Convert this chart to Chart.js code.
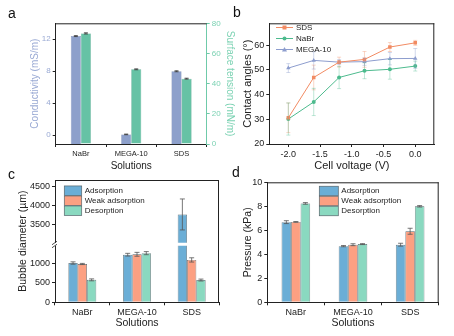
<!DOCTYPE html>
<html>
<head>
<meta charset="utf-8">
<script src="https://cdn.jsdelivr.net/npm/chart.js@4.4.0/dist/chart.umd.min.js"></script>
<style>
  body { margin: 0; background: #fff; width: 454px; height: 336px; overflow: hidden; position: relative; }
  canvas { position: absolute; left: 0; top: 0; }
  .lab { position: absolute; font: 14px 'Liberation Sans', Arial, sans-serif; color: #111; }
</style>
</head>
<body>
<canvas id="ca" width="454" height="336"></canvas>
<canvas id="cb" width="454" height="336"></canvas>
<canvas id="cc" width="454" height="336"></canvas>
<canvas id="cd" width="454" height="336"></canvas>
<div class="lab" style="left:8px;top:5px">a</div>
<div class="lab" style="left:233px;top:4px">b</div>
<div class="lab" style="left:8px;top:166px">c</div>
<div class="lab" style="left:232px;top:164px">d</div>
<script>
const FONT = "'Liberation Sans', Arial, sans-serif";

// panel a
const solutions = ['NaBr', 'MEGA-10', 'SDS'];
const conductivity = [12.4, 0.1, 8.0];
const conductivityErr = [0.06, 0.04, 0.06];
const surfaceTension = [73.3, 49.5, 43.3];
const surfaceTensionErr = [0.4, 0.3, 0.3];
const condTicks = [0, 4, 8, 12];
const tensionTicks = [0, 20, 40, 60, 80];

// panel b
const voltages = [-2.0, -1.6, -1.2, -0.8, -0.4, 0.0];
const angleSDS = [30.6, 46.9, 53.1, 54.2, 59.2, 60.9];
const angleSDSErr = [6, 5, 2, 3.2, 1.8, 1];
const angleNaBr = [30.1, 37.0, 46.9, 49.6, 50.2, 51.5];
const angleNaBrErr = [6.5, 5.5, 4.5, 3.2, 4, 2];
const angleMEGA = [50.7, 53.8, 53.1, 53.3, 54.5, 54.6];
const angleMEGAErr = [1.8, 3.5, 1, 1.5, 2.5, 4];
const voltTicks = [-2.0, -1.5, -1.0, -0.5, 0.0];
const angleTicks = [20, 30, 40, 50, 60];

// panel c
const stages = ['Adsorption', 'Weak adsorption', 'Desorption'];
const bubbleAds = [1015, 1230, 3770];
const bubbleAdsErr = [30, 35, 400];
const bubbleWeak = [990, 1240, 1095];
const bubbleWeakErr = [15, 50, 55];
const bubbleDes = [580, 1270, 575];
const bubbleDesErr = [25, 40, 25];
const bubbleTicks = [0, 500, 1000, 3500, 4000, 4500];
const breakLow = 1500, breakHigh = 3000;

// panel d
const pressAds = [6.68, 4.68, 4.8];
const pressAdsErr = [0.12, 0.05, 0.12];
const pressWeak = [6.7, 4.8, 5.92];
const pressWeakErr = [0.03, 0.08, 0.25];
const pressDes = [8.24, 4.85, 8.0];
const pressDesErr = [0.07, 0.04, 0.06];
const pressTicks = [0, 2, 4, 6, 8, 10];

const stageColors = ['#6BAED6', '#FCA082', '#8AD9C0'];

Chart.defaults.font.family = FONT;
Chart.defaults.color = '#222';

const fixTicks = vals => s => { s.ticks = vals.map(v => ({ value: v })); };

function axisBase(size) {
  return {
    border: { display: true, color: '#222', width: 1 },
    grid: { display: true, drawOnChartArea: false, drawTicks: true, tickLength: 3, color: '#222' },
    ticks: { color: '#222', font: { size: size }, padding: 2 }
  };
}

const errPlugin = {
  id: 'errbars',
  afterDatasetsDraw(chart) {
    const ctx = chart.ctx;
    chart.data.datasets.forEach((ds, i) => {
      if (!ds.errors) return;
      const meta = chart.getDatasetMeta(i);
      const ys = chart.scales[meta.yAxisID];
      ctx.save();
      ctx.strokeStyle = ds.errColor || '#444';
      ctx.lineWidth = 0.8;
      meta.data.forEach((el, j) => {
        const raw = ds.data[j];
        const v = typeof raw === 'object' ? raw.y : raw;
        const e = ds.errors[j];
        const y1 = ys.getPixelForValue(v + e), y2 = ys.getPixelForValue(v - e);
        const x = el.x, cw = ds.capW || 2;
        ctx.beginPath();
        ctx.moveTo(x, y1); ctx.lineTo(x, y2);
        ctx.moveTo(x - cw, y1); ctx.lineTo(x + cw, y1);
        ctx.moveTo(x - cw, y2); ctx.lineTo(x + cw, y2);
        ctx.stroke();
      });
      ctx.restore();
    });
  }
};

function framePlugin(sides) {
  return {
    id: 'frame',
    afterDraw(chart) {
      const { ctx, chartArea: a } = chart;
      ctx.save();
      ctx.strokeStyle = '#222';
      ctx.lineWidth = 1;
      ctx.beginPath();
      if (sides.includes('top')) { ctx.moveTo(a.left, a.top + 0.5); ctx.lineTo(a.right, a.top + 0.5); }
      if (sides.includes('right')) { ctx.moveTo(a.right - 0.5, a.top); ctx.lineTo(a.right - 0.5, a.bottom); }
      ctx.stroke();
      ctx.restore();
    }
  };
}

function boxLegend(x, y, w, h, rowH) {
  return {
    id: 'boxLegend',
    afterDraw(chart) {
      const ctx = chart.ctx;
      ctx.save();
      ctx.font = '8px ' + FONT;
      ctx.textBaseline = 'middle';
      chart.data.datasets.forEach((ds, i) => {
        const yy = y + i * rowH;
        ctx.fillStyle = ds.backgroundColor;
        ctx.fillRect(x, yy - h / 2, w, h);
        ctx.strokeStyle = '#56646b';
        ctx.lineWidth = 0.7;
        ctx.strokeRect(x, yy - h / 2, w, h);
        ctx.fillStyle = '#222';
        ctx.fillText(ds.label, x + w + 3, yy);
      });
      ctx.restore();
    }
  };
}

const lineLegend = {
  id: 'lineLegend',
  afterDraw(chart) {
    const ctx = chart.ctx;
    ctx.save();
    ctx.font = '8px ' + FONT;
    ctx.textBaseline = 'middle';
    chart.data.datasets.forEach((ds, i) => {
      const y = 27.5 + i * 11, x0 = 276, x1 = 293;
      ctx.strokeStyle = ds.borderColor;
      ctx.lineWidth = 1;
      ctx.beginPath(); ctx.moveTo(x0, y); ctx.lineTo(x1, y); ctx.stroke();
      ctx.fillStyle = ds.borderColor;
      const xm = (x0 + x1) / 2;
      ctx.beginPath();
      if (ds.pointStyle === 'rect') ctx.rect(xm - 2, y - 2, 4, 4);
      else if (ds.pointStyle === 'triangle') { ctx.moveTo(xm, y - 2.5); ctx.lineTo(xm + 2.5, y + 2); ctx.lineTo(xm - 2.5, y + 2); ctx.closePath(); }
      else ctx.arc(xm, y, 2, 0, Math.PI * 2);
      ctx.fill();
      ctx.fillStyle = '#222';
      ctx.fillText(ds.label, 296, y);
    });
    ctx.restore();
  }
};

// ---------- a ----------
const condColor = '#8DA0CB', tensColor = '#66C2A5';
new Chart(document.getElementById('ca'), {
  type: 'bar',
  data: {
    labels: solutions,
    datasets: [
      { label: 'Conductivity', data: conductivity, errors: conductivityErr, errColor: '#333', capW: 2,
        yAxisID: 'y', base: -1.1, backgroundColor: condColor, borderColor: '#6d7fa8', borderWidth: 0.5 },
      { label: 'Surface tension', data: surfaceTension, errors: surfaceTensionErr, errColor: '#333', capW: 2,
        yAxisID: 'y1', base: 0, backgroundColor: tensColor, borderColor: '#4c9f86', borderWidth: 0.5 }
    ]
  },
  options: {
    responsive: false, animation: false, devicePixelRatio: 1,
    layout: { padding: { left: 25, top: 23.3, right: 214, bottom: 160 } },
    datasets: { bar: { categoryPercentage: 0.4, barPercentage: 1 } },
    plugins: { legend: { display: false }, tooltip: { enabled: false } },
    scales: {
      x: Object.assign(axisBase(7.5), {
        title: { display: true, text: 'Solutions', font: { size: 10 }, padding: { top: 2, bottom: 4 } },
        afterFit: s => { s.height = 32; }
      }),
      y: Object.assign(axisBase(8), {
        min: -1.1, max: 14, afterBuildTicks: fixTicks(condTicks),
        ticks: { color: '#9aaad4', font: { size: 8 }, padding: 2 },
        title: { display: true, text: 'Conductivity (mS/m)', color: '#9aaad4', font: { size: 10 } },
        afterFit: s => { s.width = 30.7; }
      }),
      y1: {
        position: 'right', min: 0, max: 80, afterBuildTicks: fixTicks(tensionTicks),
        border: { display: true, color: '#6fcaa9', width: 1 },
        grid: { display: true, drawOnChartArea: false, drawTicks: true, tickLength: 3, color: '#6fcaa9' },
        ticks: { color: '#7cd2b3', font: { size: 8 }, padding: 2 },
        title: { display: true, text: 'Surface tension (mN/m)', color: '#7cd2b3', font: { size: 10 } },
        afterFit: s => { s.width = 33.3; }
      }
    }
  },
  plugins: [framePlugin(['top']), errPlugin]
});

// ---------- b ----------
const pts = arr => arr.map((v, i) => ({ x: voltages[i], y: v }));
function lineDs(label, data, err, color, errColor, style) {
  return { label, data: pts(data), errors: err, errColor, capW: 2, borderColor: color, backgroundColor: color,
    borderWidth: 1, pointStyle: style, pointRadius: style === 'circle' ? 2 : 2.5, pointBorderWidth: 0 };
}
new Chart(document.getElementById('cb'), {
  type: 'line',
  data: {
    datasets: [
      lineDs('SDS', angleSDS, angleSDSErr, '#F28B63', 'rgba(242,139,99,0.45)', 'rect'),
      lineDs('NaBr', angleNaBr, angleNaBrErr, '#4DBB8E', 'rgba(77,187,142,0.45)', 'circle'),
      lineDs('MEGA-10', angleMEGA, angleMEGAErr, '#8D9DCE', 'rgba(141,157,206,0.5)', 'triangle')
    ]
  },
  options: {
    responsive: false, animation: false, devicePixelRatio: 1,
    layout: { padding: { left: 237.7, top: 23.3, right: 19.7, bottom: 159 } },
    plugins: { legend: { display: false }, tooltip: { enabled: false } },
    scales: {
      x: Object.assign(axisBase(9), {
        type: 'linear', min: -2.3, max: 0.3, afterBuildTicks: fixTicks(voltTicks),
        ticks: { color: '#222', font: { size: 9 }, padding: 2, callback: v => v.toFixed(1) },
        title: { display: true, text: 'Cell voltage (V)', font: { size: 11 }, padding: { top: 2, bottom: 4 } },
        afterFit: s => { s.height = 33; }
      }),
      y: Object.assign(axisBase(9), {
        min: 20, max: 68.8, afterBuildTicks: fixTicks(angleTicks),
        title: { display: true, text: 'Contact angles (°)', font: { size: 11 } },
        afterFit: s => { s.width = 31.6; }
      })
    }
  },
  plugins: [framePlugin(['top', 'right']), errPlugin, lineLegend]
});

// ---------- c ----------
const brk = v => v > breakLow ? v - (breakHigh - breakLow) : v;
const unbrk = v => v > breakLow ? v + (breakHigh - breakLow) : v;
function barDs(label, data, err, color, capW) {
  return { label, data, errors: err, errColor: '#555', capW, backgroundColor: color,
    borderColor: '#56646b', borderWidth: 0.7 };
}
const breakPlugin = {
  id: 'axisBreak',
  afterDatasetsDraw(chart) {
    const { ctx, chartArea: a } = chart;
    const y = chart.scales.y.getPixelForValue(breakLow);
    ctx.save();
    ctx.fillStyle = '#fff';
    ctx.fillRect(a.left - 4, y - 1.5, a.right - a.left + 3, 3);
    ctx.strokeStyle = '#222';
    ctx.lineWidth = 0.8;
    ctx.beginPath();
    ctx.moveTo(a.left - 3, y + 0.5); ctx.lineTo(a.left + 2, y - 3);
    ctx.moveTo(a.left - 3, y + 3.5); ctx.lineTo(a.left + 2, y);
    ctx.stroke();
    ctx.restore();
  }
};
new Chart(document.getElementById('cc'), {
  type: 'bar',
  data: {
    labels: solutions,
    datasets: [
      barDs(stages[0], bubbleAds.map(brk), bubbleAdsErr, stageColors[0], 2.5),
      barDs(stages[1], bubbleWeak.map(brk), bubbleWeakErr, stageColors[1], 2.5),
      barDs(stages[2], bubbleDes.map(brk), bubbleDesErr, stageColors[2], 2.5)
    ]
  },
  options: {
    responsive: false, animation: false, devicePixelRatio: 1,
    layout: { padding: { left: 13, top: 180, right: 235, bottom: 3 } },
    datasets: { bar: { categoryPercentage: 0.51, barPercentage: 1 } },
    plugins: { legend: { display: false }, tooltip: { enabled: false } },
    scales: {
      x: Object.assign(axisBase(9), {
        title: { display: true, text: 'Solutions', font: { size: 10.5 }, padding: { top: 2, bottom: 4 } },
        afterFit: s => { s.height = 30.7; }
      }),
      y: Object.assign(axisBase(9), {
        min: 0, max: brk(4660), afterBuildTicks: fixTicks(bubbleTicks.map(brk)),
        ticks: { color: '#222', font: { size: 9 }, padding: 2, callback: v => String(unbrk(v)) },
        title: { display: true, text: 'Bubble diameter (µm)', font: { size: 10.5 } },
        afterFit: s => { s.width = 42; }
      })
    }
  },
  plugins: [framePlugin(['top', 'right']), breakPlugin, errPlugin, boxLegend(64.3, 190.7, 17.4, 9.5, 10)]
});

// ---------- d ----------
new Chart(document.getElementById('cd'), {
  type: 'bar',
  data: {
    labels: solutions,
    datasets: [
      barDs(stages[0], pressAds, pressAdsErr, stageColors[0], 2.5),
      barDs(stages[1], pressWeak, pressWeakErr, stageColors[1], 2.5),
      barDs(stages[2], pressDes, pressDesErr, stageColors[2], 2.5)
    ]
  },
  options: {
    responsive: false, animation: false, devicePixelRatio: 1,
    layout: { padding: { left: 238, top: 182.3, right: 15.3, bottom: 3 } },
    datasets: { bar: { categoryPercentage: 0.5, barPercentage: 1 } },
    plugins: { legend: { display: false }, tooltip: { enabled: false } },
    scales: {
      x: Object.assign(axisBase(9), {
        title: { display: true, text: 'Solutions', font: { size: 10.5 }, padding: { top: 2, bottom: 4 } },
        afterFit: s => { s.height = 30.7; }
      }),
      y: Object.assign(axisBase(9), {
        min: 0, max: 10, afterBuildTicks: fixTicks(pressTicks),
        title: { display: true, text: 'Pressure (kPa)', font: { size: 10.5 } },
        afterFit: s => { s.width = 29.3; }
      })
    }
  },
  plugins: [framePlugin(['top', 'right']), errPlugin, boxLegend(319.3, 191, 19, 9.5, 10)]
});
</script>
</body>
</html>
